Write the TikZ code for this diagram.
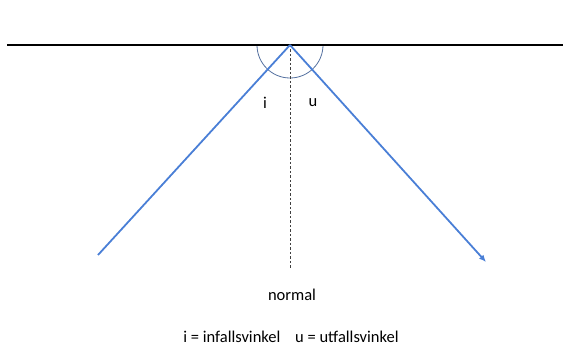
\documentclass[tikz,border=0pt]{standalone}
\usepackage{fontspec}
\setmainfont{Carlito}
\usetikzlibrary{arrows.meta,positioning}
\definecolor{RayBlue}{HTML}{4A7FD6}
\definecolor{ArcBlue}{HTML}{5571A0}
\tikzset{
  raysurface/.style={line width=2pt,draw=black},
  raybeam/.style={line width=1.8pt,draw=RayBlue},
  rayarrow/.style={raybeam,-{Latex[length=7pt,width=6pt]}},
  raynormal/.style={dash pattern=on 2.5pt off 2pt,line width=0.8pt,draw=black!75},
  rayangle/.style={line width=0.8pt,draw=ArcBlue},
  raylabel/.style={font=\fontsize{16.5}{18}\selectfont,inner sep=0pt}
}
\begin{document}
\begin{tikzpicture}[x=1pt,y=1pt]
    \useasboundingbox (0,0) rectangle (563,346);
    \coordinate (hit) at (290,301);
    \coordinate (left) at (7,301);
    \coordinate (right) at (563,301);
    \coordinate (src) at (98,91);
    \coordinate (dst) at (486,84);
    \coordinate (foot) at (290,78);
    \coordinate (arcstart) at (257,301);
    \draw[rayangle] (arcstart) arc[start angle=180,end angle=360,radius=33pt];
    \draw[raysurface] (left) -- (right);
    \draw[raynormal] (hit) -- (foot);
    \draw[raybeam] (src) -- (hit);
    \draw[rayarrow] (hit) -- (dst);
    \node[raylabel] (i) at (265,243) {i};
    \node[raylabel] (u) at (313,243) {u};
    \node[raylabel] (normal) at (292,51) {normal};
    \node[raylabel] (legend) at (291,9) {i = infallsvinkel\hspace{0.9em}u = utfallsvinkel};
  \end{tikzpicture}
\end{document}
